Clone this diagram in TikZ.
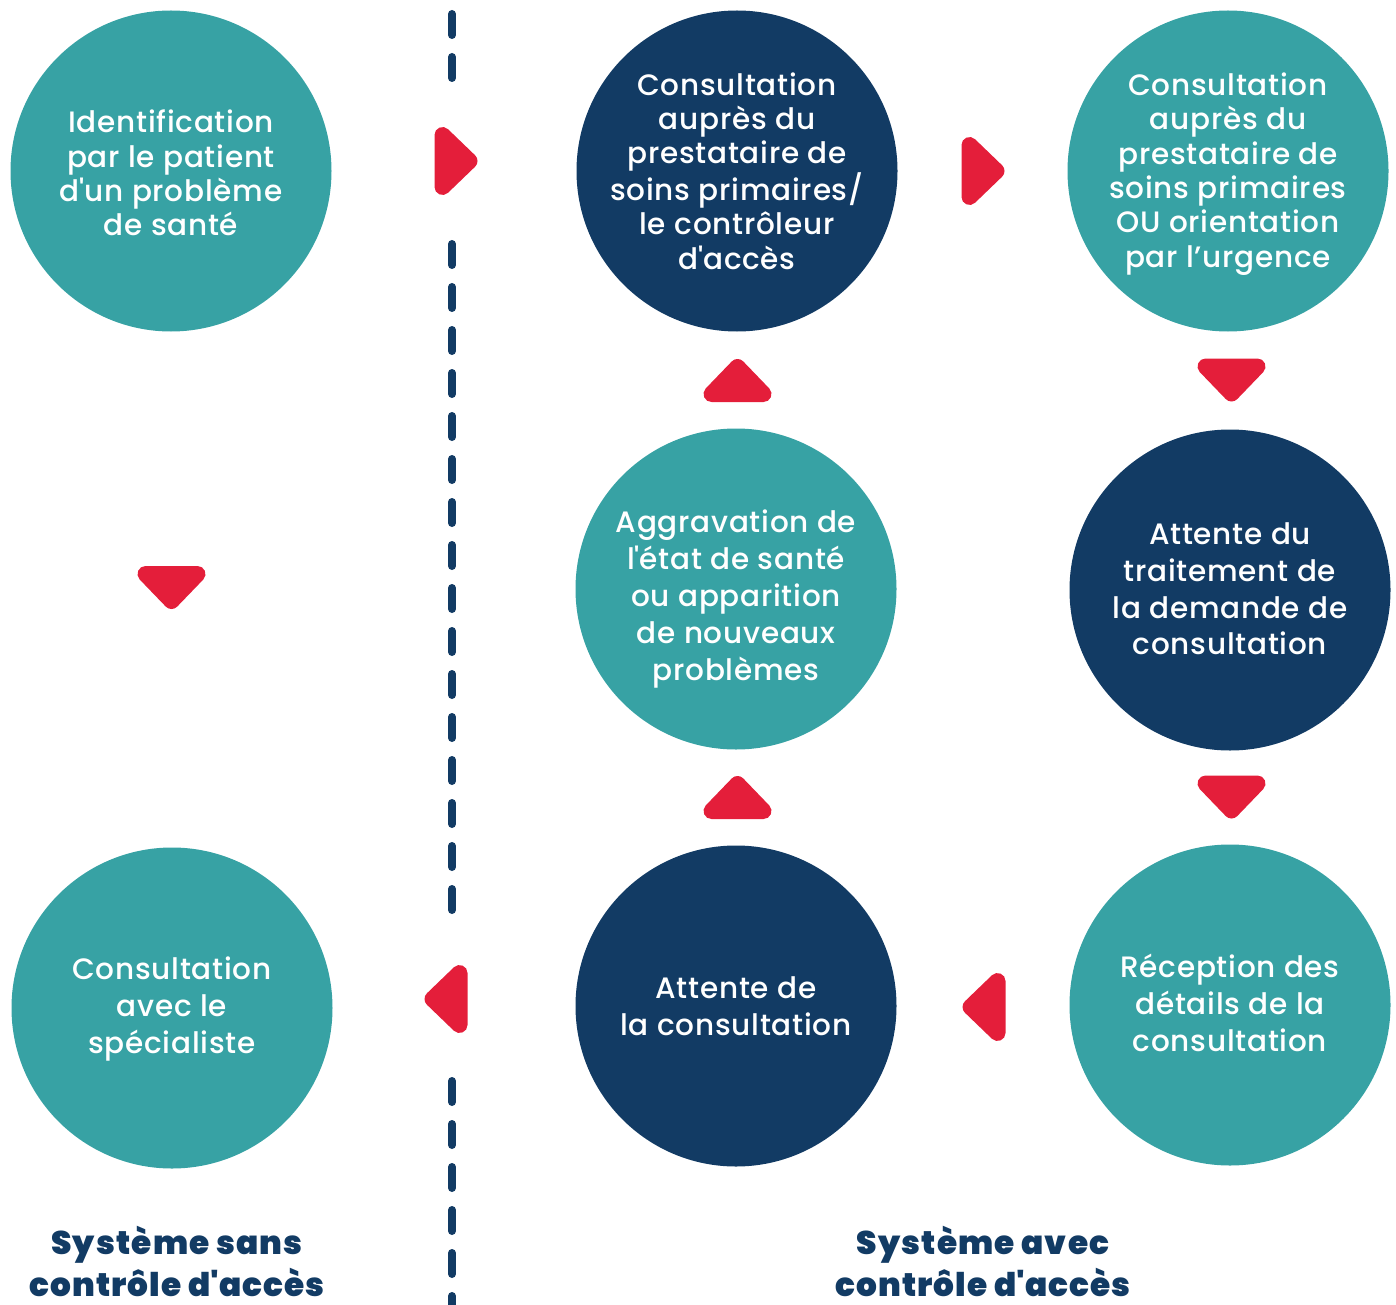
\documentclass[tikz,border=0pt]{standalone}
\usepackage{fontspec}
\setmainfont{Poppins}[UprightFont=* Medium, BoldFont=* Black]
\definecolor{ringteal}{HTML}{37A2A4}
\definecolor{ringnavy}{HTML}{123B64}
\definecolor{flagred}{HTML}{E41E3A}
\tikzset{
  bubble/.style={circle, minimum size=321pt, inner sep=0pt},
  tealbubble/.style={bubble, fill=ringteal},
  navybubble/.style={bubble, fill=ringnavy},
  caption/.style={text=white, align=center, inner sep=0pt},
  tight/.style={caption, font=\addfontfeatures{LetterSpace=2.5}\fontsize{29.5}{34.4}\selectfont},
  loose/.style={caption, font=\addfontfeatures{LetterSpace=2.5}\fontsize{29.5}{36.8}\selectfont},
  heading/.style={text=ringnavy, align=center, font=\bfseries\addfontfeatures{LetterSpace=3.5}\fontsize{32.7}{42}\selectfont},
  divider/.style={draw=ringnavy, line width=8pt, line cap=round, dash pattern=on 21pt off 22pt},
  pics/pointer/.style={code={
    \filldraw[flagred, line width=16pt, line join=round] (-13.5,-26) -- (13.5,0) -- (-13.5,26) -- cycle;}},
}
\begin{document}
\begin{tikzpicture}[x=1pt, y=-1pt]
\useasboundingbox (0,0) rectangle (1396,1305);

% left column: system without gatekeeping
\node[tealbubble] (ident) at (171,171) {};
\node[tight] (ident-t) at ([yshift=-2pt]ident.center)
  {Identification\\par le patient\\d\textquotesingle un problème\\de santé};
\node[tealbubble] (spec) at (172,1008) {};
\node[loose] (spec-t) at ([yshift=-1pt]spec.center)
  {Consultation\\avec le\\spécialiste};

% middle column
\node[navybubble] (gate) at (737,171) {};
\node[tight] (gate-t) at (gate.center)
  {Consultation\\auprès du\\prestataire de\\soins primaires/\\le contrôleur\\d\textquotesingle accès};
\node[tealbubble] (worse) at (736,589) {};
\node[loose] (worse-t) at ([yshift=-10pt]worse.center)
  {Aggravation de\\l\textquotesingle état de santé\\ou apparition\\de nouveaux\\problèmes};
\node[navybubble] (waitc) at (736,1006) {};
\node[loose] (waitc-t) at (waitc.center)
  {Attente de\\la consultation};

% right column
\node[tealbubble] (prim) at (1228,171) {};
\node[tight] (prim-t) at ([yshift=-3pt]prim.center)
  {Consultation\\auprès du\\prestataire de\\soins primaires\\OU orientation\\par l’urgence};
\node[navybubble] (waitr) at (1230,590) {};
\node[loose] (waitr-t) at ([yshift=1pt]waitr.center)
  {Attente du\\traitement de\\la demande de\\consultation};
\node[tealbubble] (recv) at (1230,1005) {};
\node[loose] (recv-t) at ([yshift=2pt]recv.center)
  {Réception des\\détails de la\\consultation};

% flow markers
\pic (a1) at (456,161) {pointer};
\pic (a2) at (983,171) {pointer};
\pic[rotate=-90] (a3) at (1231.5,380) {pointer};
\pic[rotate=-90] (a4) at (1231.5,797) {pointer};
\pic[rotate=180] (a5) at (984,1007) {pointer};
\pic[rotate=90] (a6) at (737.5,797.5) {pointer};
\pic[rotate=90] (a7) at (737.5,380.5) {pointer};
\pic[rotate=180] (a8) at (446,999) {pointer};
\pic[rotate=-90] (a9) at (171.5,587.5) {pointer};

% dividing line between the two systems
\coordinate (d1s) at (452,14);
\coordinate (d1e) at (452,78);
\coordinate (d2s) at (452,244);
\coordinate (d2e) at (452,910);
\coordinate (d3s) at (452,1081);
\coordinate (d3e) at (452,1330);
\draw[divider] (d1s) -- (d1e);
\draw[divider] (d2s) -- (d2e);
\draw[divider] (d3s) -- (d3e);

% system headings
\node[heading] (lhead) at (177,1261) {Système sans\\contrôle d\textquotesingle accès};
\node[heading] (rhead) at (983,1261) {Système avec\\contrôle d\textquotesingle accès};
\end{tikzpicture}
\end{document}
